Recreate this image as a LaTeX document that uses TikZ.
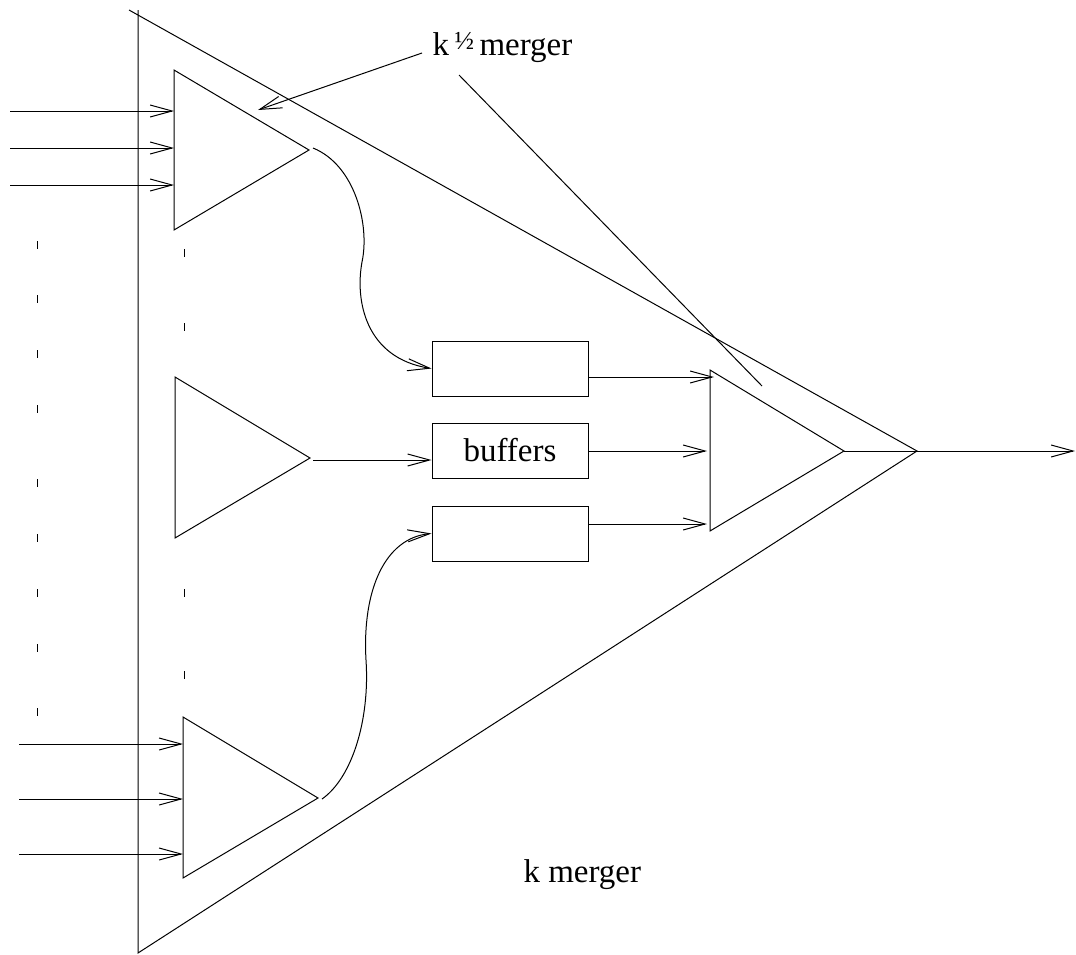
\documentclass[tikz,border=0pt]{standalone}
\usepackage{fontspec}
\setmainfont{Liberation Serif}
\usetikzlibrary{arrows.meta}

\begin{document}
\begin{tikzpicture}[x=0.5pt,y=-0.5pt,line width=0.5pt,
	font=\fontsize{16.5pt}{19pt}\selectfont,
	>={Straight Barb[length=11pt,width=6pt]},
	buf/.style={draw, minimum width=78pt, minimum height=27.5pt, inner sep=0pt}]
\useasboundingbox (0,0) rectangle (1076,954);
%========================================
% Outer k merger
%========================================
\coordinate (kTop) at (138,10);
\coordinate (kTip) at (129,10);
\coordinate (kBot) at (138,953);
\coordinate (kApex) at (917,451);
\draw (kTop) -- (kBot) -- (kApex) -- (kTip);
\node[anchor=base west, inner sep=0pt] (kLbl) at (523,882) {k merger};
%========================================
% Small mergers on the left
%========================================
% upper
\coordinate (aTop) at (174,70);
\coordinate (aBot) at (174,230);
\coordinate (aApex) at (309,150);
\draw (aTop) -- (aBot) -- (aApex) -- cycle;
% middle
\coordinate (bTop) at (175,377);
\coordinate (bBot) at (175,538);
\coordinate (bApex) at (310,458);
\draw (bTop) -- (bBot) -- (bApex) -- cycle;
% lower
\coordinate (cTop) at (183,717);
\coordinate (cBot) at (183,878);
\coordinate (cApex) at (318,798);
\draw (cTop) -- (cBot) -- (cApex) -- cycle;
% Inputs
\foreach \y in {111,148,185}
	\draw[->] (10,\y) -- (aTop |- 0,\y);
\foreach \y in {744,799,854}
	\draw[->] (19,\y) -- (cTop |- 0,\y);
% Dots between inputs
\foreach \y in {245,299,354,409,483,538,593,648,712}
	\draw (37,\y-4) -- (37,\y+4);
\foreach \y in {253,327,593,675}
	\draw (184,\y-4) -- (184,\y+4);
%========================================
% Buffers
%========================================
\node[buf] (bufTop) at (510,368.5) {};
\node[buf] (bufMid) at (510,450.5) {buffers};
\node[buf] (bufBot) at (510,533.5) {};
\coordinate (aOut) at (313,148);
\coordinate (bOut) at (313,460);
\coordinate (cOut) at (322,799);
\draw[->] (aOut) .. controls (355,165) and (370,225) .. (362,262)
	.. controls (355,300) and (365,358) .. (bufTop.west);
\draw[->] (bOut) -- (bOut -| bufMid.west);
\draw[->] (cOut) .. controls (352,778) and (370,720) .. (366,660)
	.. controls (362,590) and (385,538) .. (bufBot.west);
%========================================
% Final merger
%========================================
\coordinate (rTop) at (710,370);
\coordinate (rBot) at (710,531);
\coordinate (rApex) at (844,451);
\draw (rTop) -- (rBot) -- (rApex) -- cycle;
\coordinate (rInA) at (714,377);
\coordinate (rInB) at (707,451);
\coordinate (rInC) at (707,524);
\draw[->] (bufTop.east |- rInA) -- (rInA);
\draw[->] (bufMid.east |- rInB) -- (rInB);
\draw[->] (bufBot.east |- rInC) -- (rInC);
\coordinate (kOut) at (1075,451);
\draw (rApex) -- (kApex);
\draw[->] (kApex) -- (kOut);
%========================================
% k^{1/2} merger label
%========================================
\node[anchor=base west, inner sep=0pt] (subLbl) at (432,55)
	{k\,\raisebox{3pt}{\fontsize{13pt}{13pt}\selectfont ½}\,merger};
\coordinate (subPtr) at (258,110);
\coordinate (subLineA) at (459,75);
\coordinate (subLineB) at (762,386);
\draw[->] ([xshift=-5pt,yshift=1pt]subLbl.base west) -- (subPtr);
\draw (subLineA) -- (subLineB);
\end{tikzpicture}
\end{document}
